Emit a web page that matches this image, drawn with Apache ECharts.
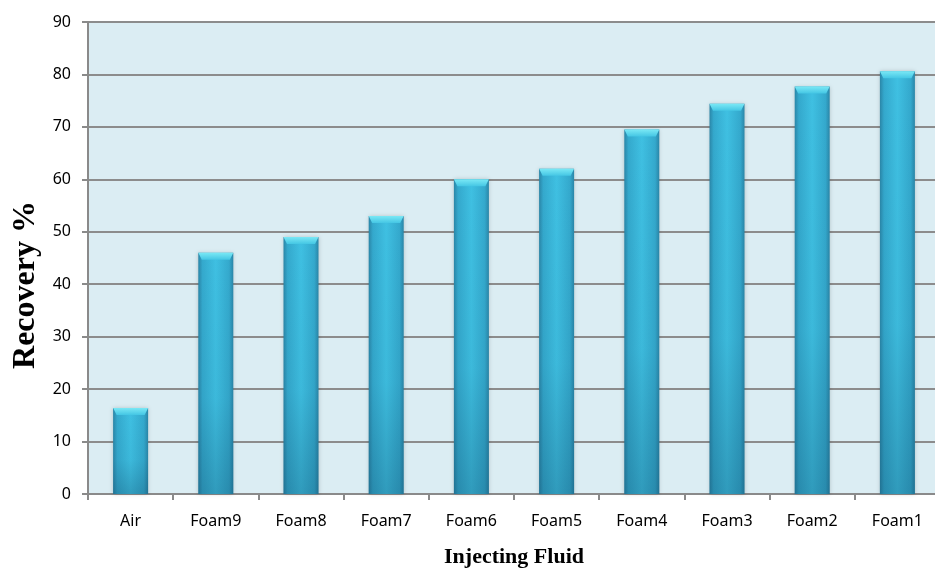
<!DOCTYPE html>
<html>
<head>
<meta charset="utf-8">
<script src="https://cdn.jsdelivr.net/npm/echarts@6/dist/echarts.min.js"></script>
<style>
  html, body { margin: 0; padding: 0; background: #ffffff; }
  #chart { width: 935px; height: 569px; }
</style>
</head>
<body>
<div id="chart"></div>
<script>
// Oil recovery by injecting fluid
const categories = ['Air', 'Foam9', 'Foam8', 'Foam7', 'Foam6', 'Foam5', 'Foam4', 'Foam3', 'Foam2', 'Foam1'];
const recovery = [16.4, 46.0, 49.0, 53.0, 60.0, 62.0, 69.5, 74.4, 77.7, 80.6];
const yTicks = [0, 10, 20, 30, 40, 50, 60, 70, 80, 90];

const BAR_W = 35;

const chart = echarts.init(document.getElementById('chart'), null, { renderer: 'canvas' });

const bodyGradient = new echarts.graphic.LinearGradient(0, 0, 1, 0, [
  { offset: 0, color: '#2a86a8' },
  { offset: 0.12, color: '#34a9cd' },
  { offset: 0.5, color: '#3fc0e2' },
  { offset: 0.88, color: '#34a9cd' },
  { offset: 1, color: '#2a86a8' }
]);

const shadeGradient = new echarts.graphic.LinearGradient(0, 0, 0, 1, [
  { offset: 0, color: 'rgba(10,60,90,0)' },
  { offset: 0.6, color: 'rgba(10,60,90,0.05)' },
  { offset: 1, color: 'rgba(10,60,90,0.28)' }
]);

const capGradient = new echarts.graphic.LinearGradient(0, 0, 0, 1, [
  { offset: 0, color: '#7ae8f5' },
  { offset: 1, color: '#44c6e4' }
]);

chart.setOption({
  animation: false,
  grid: {
    left: 88, right: -5, top: 22, bottom: 75,
    outerBoundsMode: 'none',
    containLabel: false,
    show: true, backgroundColor: '#dbedf3', borderWidth: 0
  },
  xAxis: {
    type: 'category',
    data: categories,
    name: 'Injecting Fluid',
    nameLocation: 'middle',
    nameGap: 52,
    nameTextStyle: { fontFamily: 'Liberation Serif', fontWeight: 'bold', fontSize: 22, color: '#000' },
    axisLine: { lineStyle: { color: '#8a8a8a', width: 2 } },
    axisTick: { show: true, length: 6, alignWithLabel: false, lineStyle: { color: '#8a8a8a', width: 2 } },
    axisLabel: { margin: 19, fontFamily: 'Noto Sans', fontSize: 16, color: '#000' },
    splitLine: { show: false }
  },
  yAxis: {
    type: 'value',
    min: yTicks[0],
    max: yTicks[yTicks.length - 1],
    interval: yTicks[1] - yTicks[0],
    name: 'Recovery %',
    nameLocation: 'middle',
    nameGap: 42,
    nameRotate: 90,
    nameTextStyle: {
      fontFamily: 'Liberation Serif', fontWeight: 'bold', fontSize: 32, color: '#000',
      padding: [0, 54, 0, 0]
    },
    axisLine: { show: true, lineStyle: { color: '#8a8a8a', width: 2 } },
    axisTick: { show: true, length: 6, lineStyle: { color: '#8a8a8a', width: 2 } },
    axisLabel: { margin: 17, fontFamily: 'Noto Sans', fontSize: 16, color: '#000' },
    splitLine: { show: true, lineStyle: { color: '#8c8c8c', width: 2 } }
  },
  series: [
    {
      type: 'bar',
      data: recovery,
      barWidth: BAR_W,
      itemStyle: {
        color: bodyGradient,
        shadowBlur: 4,
        shadowColor: 'rgba(0,0,0,0.18)',
        shadowOffsetX: 0
      },
      z: 2
    },
    {
      type: 'bar',
      data: recovery,
      barWidth: BAR_W,
      barGap: '-100%',
      itemStyle: { color: shadeGradient },
      silent: true,
      z: 3
    },
    {
      type: 'pictorialBar',
      data: recovery,
      symbol: 'path://M0,0 L10,0 L9,1 L1,1 Z',
      symbolSize: [BAR_W, 7],
      symbolPosition: 'end',
      symbolOffset: [0, 0],
      itemStyle: { color: capGradient },
      silent: true,
      z: 4
    }
  ]
});
</script>
</body>
</html>
